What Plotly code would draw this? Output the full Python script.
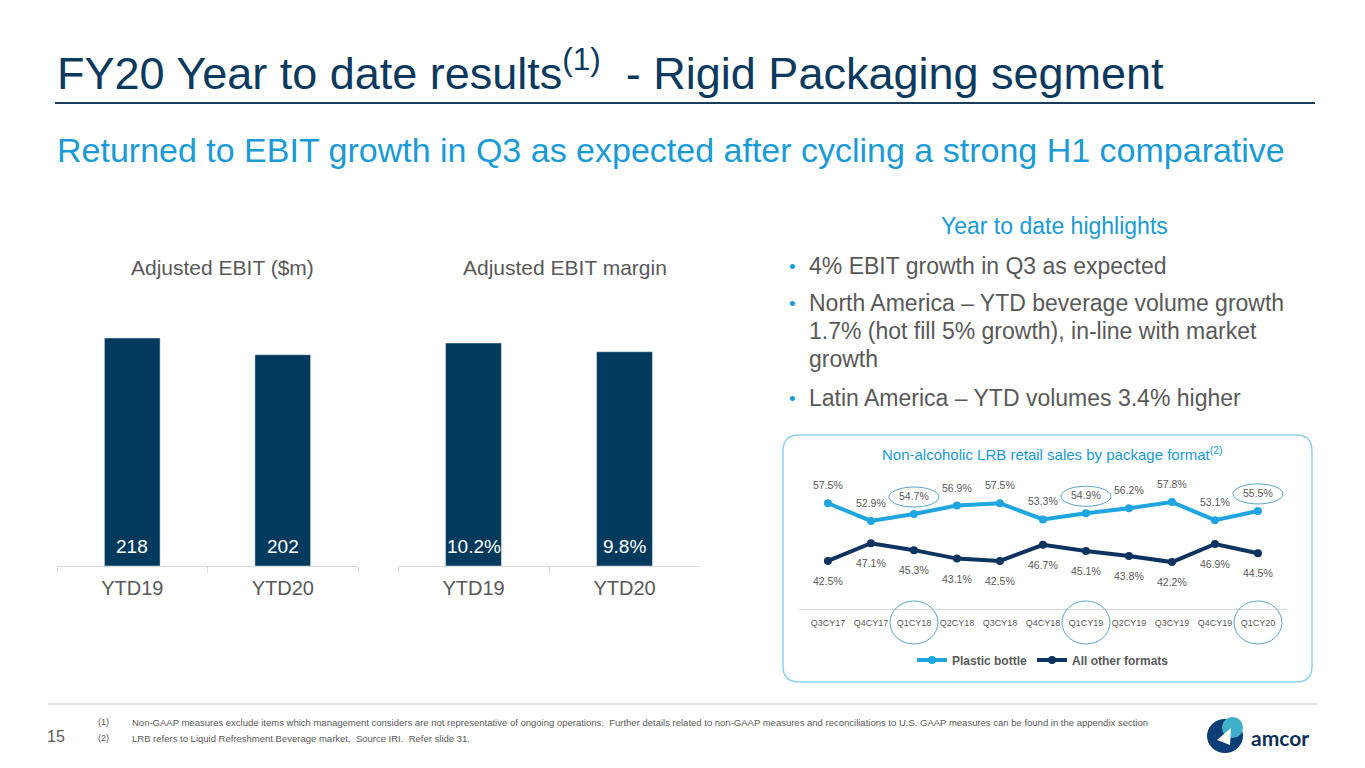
import plotly.graph_objects as go

W, H = 1365, 768

# bar charts
years = ['YTD19', 'YTD20']
ebit = [218, 202]
margin_pct = [10.2, 9.8]

# line chart
quarters = ['Q3CY17', 'Q4CY17', 'Q1CY18', 'Q2CY18', 'Q3CY18', 'Q4CY18',
            'Q1CY19', 'Q2CY19', 'Q3CY19', 'Q4CY19', 'Q1CY20']
plastic = [57.5, 52.9, 54.7, 56.9, 57.5, 53.3, 54.9, 56.2, 57.8, 53.1, 55.5]
other = [42.5, 47.1, 45.3, 43.1, 42.5, 46.7, 45.1, 43.8, 42.2, 46.9, 44.5]
highlight = ['Q1CY18', 'Q1CY19', 'Q1CY20']

bullets = [
    ['4% EBIT growth in Q3 as expected'],
    ['North America – YTD beverage volume growth',
     '1.7% (hot fill 5% growth), in-line with market',
     'growth'],
    ['Latin America – YTD volumes 3.4% higher'],
]
footnotes = [
    'Non-GAAP measures exclude items which management considers are not representative of ongoing operations.  '
    'Further details related to non-GAAP measures and reconciliations to U.S. GAAP measures can be found in the appendix section',
    'LRB refers to Liquid Refreshment Beverage market,  Source IRI.  Refer slide 31.',
]

NAVY = '#0c3a5e'
BAR = '#023a5d'
CYAN = '#1a9ad6'
PLASTIC = '#1fa5df'
OTHER = '#0d3461'
GREY = '#595959'
LIGHT = '#d9d9d9'
FONT = 'Arial, Liberation Sans, sans-serif'
NARROW = 'Liberation Sans Narrow, Arial Narrow, Arial, sans-serif'


def px(x):
    return x / W


def py(y):
    return 1 - y / H


def rounded_rect(x0, y0, x1, y1, r):
    rx, ry = r / W, r / H
    a, b, c, d = px(x0), py(y1), px(x1), py(y0)
    return (f'M {a + rx},{b} L {c - rx},{b} Q {c},{b} {c},{b + ry} '
            f'L {c},{d - ry} Q {c},{d} {c - rx},{d} L {a + rx},{d} '
            f'Q {a},{d} {a},{d - ry} L {a},{b + ry} Q {a},{b} {a + rx},{b} Z')


fig = go.Figure()

bar_style = dict(width=0.37, marker=dict(color=BAR), showlegend=False,
                 hoverinfo='skip')
fig.add_trace(go.Bar(x=years, y=ebit, xaxis='x', yaxis='y', **bar_style))
fig.add_trace(go.Bar(x=years, y=margin_pct, xaxis='x2', yaxis='y2', **bar_style))
fig.add_trace(go.Scatter(
    x=quarters, y=plastic, xaxis='x3', yaxis='y3', mode='lines+markers',
    name='Plastic bottle', line=dict(color=PLASTIC, width=4),
    marker=dict(size=8, color=PLASTIC), hoverinfo='skip',
))
fig.add_trace(go.Scatter(
    x=quarters, y=other, xaxis='x3', yaxis='y3', mode='lines+markers',
    name='All other formats', line=dict(color=OTHER, width=4),
    marker=dict(size=8, color=OTHER), hoverinfo='skip',
))

bar_x = dict(type='category', showline=True, linecolor=LIGHT, linewidth=1,
             ticks='outside', tickson='boundaries', ticklen=6, tickcolor=LIGHT,
             ticklabelstandoff=4,
             tickfont=dict(size=20, color=GREY, family=FONT), showgrid=False,
             fixedrange=True)
base = 566
fig.update_layout(
    width=W, height=H, autosize=False,
    margin=dict(l=0, r=0, t=0, b=0),
    paper_bgcolor='white', plot_bgcolor='rgba(0,0,0,0)',
    font=dict(family=FONT, color=GREY),
    xaxis=dict(domain=[px(57), px(358)], anchor='y', **bar_x),
    yaxis=dict(domain=[py(base), py(base - 228 * 240 / 218)], range=[0, 240],
               visible=False, anchor='x'),
    xaxis2=dict(domain=[px(398), px(700)], anchor='y2', **bar_x),
    yaxis2=dict(domain=[py(base), py(base - 223 * 11 / 10.2)], range=[0, 11],
                visible=False, anchor='x2'),
    xaxis3=dict(domain=[px(798.5), px(1287.4)], anchor='y3', type='category',
                showline=True, linecolor=LIGHT, linewidth=1, ticks='',
                ticklabelstandoff=5, showgrid=False,
                tickfont=dict(size=9, color=GREY, family=FONT)),
    yaxis3=dict(domain=[py(609), py(474.4)], range=[30, 65], visible=False,
                anchor='x3'),
    legend=dict(orientation='h', x=px(1043), xanchor='center', y=py(660),
                yanchor='middle', font=dict(size=12, color=GREY, family=FONT,
                                            weight='bold'),
                itemwidth=30, bgcolor='rgba(0,0,0,0)'),
    showlegend=True,
)

ann = []
# header
ann.append(dict(x=px(55), y=py(70), xanchor='left',
                text='FY20 Year to date results<sup>(1)</sup> &nbsp;- Rigid Packaging segment',
                font=dict(size=45, color=NAVY)))
ann.append(dict(x=px(55), y=py(150), xanchor='left',
                text='Returned to EBIT growth in Q3 as expected after cycling a strong H1 comparative',
                font=dict(size=34, color=CYAN)))
# chart titles
ann.append(dict(x=px(222), y=py(267), text='Adjusted EBIT ($m)',
                font=dict(size=21, color=GREY)))
ann.append(dict(x=px(565), y=py(267), text='Adjusted EBIT margin',
                font=dict(size=21, color=GREY)))
# bar value labels, sitting just above the base of each bar
for xr, yr, vals, fmt in [('x', 'y', ebit, '%d'), ('x2', 'y2', margin_pct, '%.1f%%')]:
    for yr_lbl, v in zip(years, vals):
        ann.append(dict(x=yr_lbl, y=0, xref=xr, yref=yr, yanchor='bottom',
                        yshift=7, text=fmt % v,
                        font=dict(size=19, color='white')))
# highlights
ann.append(dict(x=px(1170), y=py(226), xanchor='right', text='Year to date highlights',
                font=dict(size=23, color=CYAN)))
line_y = [[266], [303, 331, 359], [398]]
for ys, lines in zip(line_y, bullets):
    ann.append(dict(x=px(787), y=py(ys[0]), xanchor='left', text='•',
                    font=dict(size=19, color=CYAN)))
    for yc, txt in zip(ys, lines):
        ann.append(dict(x=px(807), y=py(yc), xanchor='left', text=txt,
                        font=dict(size=23, color=GREY)))
# line chart title
ann.append(dict(x=px(1052), y=py(453), text='Non-alcoholic LRB retail sales by package format<sup>(2)</sup>',
                font=dict(size=15, color=CYAN)))
# data labels
for q, v in zip(quarters, plastic):
    ann.append(dict(x=q, y=v, xref='x3', yref='y3', yshift=18, text='%.1f%%' % v,
                    font=dict(size=10.5, color=GREY, family=NARROW)))
for q, v in zip(quarters, other):
    ann.append(dict(x=q, y=v, xref='x3', yref='y3', yshift=-20, text='%.1f%%' % v,
                    font=dict(size=10.5, color=GREY, family=NARROW)))
# footer
ann.append(dict(x=px(45), y=py(736), xanchor='left', text='15',
                font=dict(size=16, color=GREY)))
for i, note in enumerate(footnotes):
    ann.append(dict(x=px(96), y=py(722 + 16 * i), xanchor='left', text='(%d)' % (i + 1),
                    font=dict(size=9, color=GREY)))
    ann.append(dict(x=px(130), y=py(722 + 16 * i), xanchor='left', text=note,
                    font=dict(size=9.5, color=GREY, family=NARROW)))
ann.append(dict(x=px(1249), y=py(737), xanchor='left', text='amcor',
                font=dict(size=21, color='#0c2f57', family='Lato, Arial', weight='bold')))
for a in ann:
    a.setdefault('xref', 'paper')
    a.setdefault('yref', 'paper')
    a.setdefault('xanchor', 'center')
    a.setdefault('yanchor', 'middle')
    a['showarrow'] = False
fig.update_layout(annotations=ann)

shapes = [
    dict(type='line', xref='paper', yref='paper', x0=px(55), x1=px(1315),
         y0=py(103), y1=py(103), line=dict(color='#1d3d5c', width=2)),
    dict(type='line', xref='paper', yref='paper', x0=px(48), x1=px(1318),
         y0=py(704), y1=py(704), line=dict(color=LIGHT, width=1.5)),
    dict(type='path', xref='paper', yref='paper', path=rounded_rect(783, 435, 1312, 682, 16),
         line=dict(color='#8fd2ec', width=1.5)),
    # logo mark
    dict(type='circle', xref='paper', yref='paper', x0=px(1207), x1=px(1243),
         y0=py(753), y1=py(719), fillcolor='#0c3d77', line=dict(width=0)),
    dict(type='circle', xref='paper', yref='paper', x0=px(1222), x1=px(1243),
         y0=py(738), y1=py(717), fillcolor='#3fb0c8', line=dict(width=0)),
    dict(type='path', xref='paper', yref='paper',
         path=f'M {px(1217)},{py(740)} L {px(1231)},{py(728)} L {px(1230)},{py(745)} Z',
         fillcolor='white', line=dict(width=0)),
]
for q in highlight:
    i = quarters.index(q)
    shapes.append(dict(type='circle', xref='x3', yref='y3', xsizemode='pixel',
                       ysizemode='pixel', xanchor=i, yanchor=plastic[i],
                       x0=-25, x1=25, y0=7, y1=27,
                       line=dict(color='#5aa3c4', width=1)))
    shapes.append(dict(type='circle', xref='x3', yref='y3 domain', xsizemode='pixel',
                       ysizemode='pixel', xanchor=i, yanchor=0,
                       x0=-24, x1=24, y0=-35, y1=8,
                       line=dict(color='#5aa3c4', width=1)))
fig.update_layout(shapes=shapes)

fig.write_html('out.html', config={'displayModeBar': False},
               post_script="document.body.style.margin='0';")
